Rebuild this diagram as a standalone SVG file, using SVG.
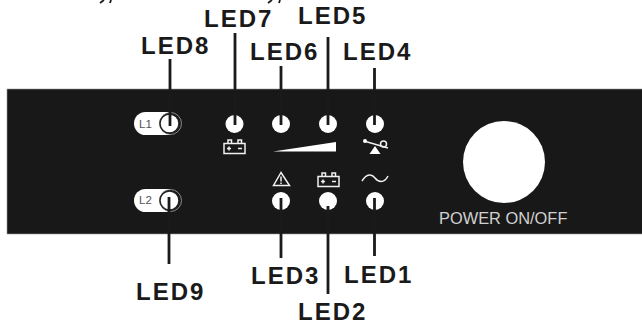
<svg xmlns="http://www.w3.org/2000/svg" width="642" height="324" viewBox="0 0 642 324">
<style>
.led{font:bold 24px "Liberation Sans",Arial,sans-serif;letter-spacing:2px;fill:#1a1a1a}
.sw{font:11.500px "Liberation Sans",Arial,sans-serif;fill:#555}
.pw{font:16.400px "Liberation Sans",Arial,sans-serif;fill:#d0d0d0}
.wl{fill:#fff}
.ln{stroke:#1a1a1a;stroke-width:2.800;fill:none}
.frag{stroke:#1a1a1a;stroke-width:1.800;fill:none}
.ic{stroke:#f0f0f0;stroke-width:1.500;fill:none}
.ring{fill:#fff;stroke:#222;stroke-width:1.500}
.halo{fill:#181818;stroke:#aaa;stroke-width:.8}
</style>
<rect width="642" height="324" fill="#fff"/>
<g id="panel"><rect x="7" y="89" width="636" height="145" fill="#181818" stroke="#999" stroke-width=".6"/></g>
<g id="power"><circle cx="504" cy="162" r="41" class="wl"/><text x="439" y="224" class="pw">POWER ON/OFF</text></g>
<g id="sw1"><path d="M145.500 112H170V135H145.500A11.500 11.500 0 0 1 145.500 112Z" class="wl"/><circle cx="170.500" cy="123.500" r="11" class="halo"/><circle cx="169.500" cy="123.500" r="9.500" class="ring"/><text x="139" y="128" class="sw">L1</text></g>
<g id="sw2"><path d="M145.500 189H170V212H145.500A11.500 11.500 0 0 1 145.500 189Z" class="wl"/><circle cx="170.500" cy="200.500" r="11" class="halo"/><circle cx="169.500" cy="200.500" r="9.500" class="ring"/><text x="139" y="204" class="sw">L2</text></g>
<g id="leds-top"><circle cx="234.500" cy="124" r="9" class="wl"/><circle cx="281" cy="124" r="9" class="wl"/><circle cx="328" cy="124" r="9" class="wl"/><circle cx="375" cy="124" r="9" class="wl"/></g>
<g id="leds-bottom"><circle cx="281" cy="201" r="9" class="wl"/><circle cx="328" cy="201" r="9" class="wl"/><circle cx="375" cy="201" r="9" class="wl"/></g>
<g id="icons">
<rect x="224" y="143.500" width="21" height="10" class="ic"/><path d="M228 143v-3h3.500v3M238 143v-3h3.500v3M227 148.500h4M229 146.500v4M238 148.500h4" class="ic"/>
<path d="M273 151.500L336 142V151.500Z" class="wl"/>
<path d="M364 141L388 148" class="ic"/><path d="M375 146L380.500 154H369.500Z" class="wl"/><circle cx="383.500" cy="144" r="3" class="ic"/><circle cx="365" cy="141" r="2" class="wl"/>
<path d="M281 172.500L273.500 185.500H289.500Z" class="ic"/><path d="M281 176.500v5M281 182.500v1.500" class="ic"/>
<rect x="318" y="176.500" width="21" height="10" class="ic"/><path d="M322 176v-3h3.500v3M332 176v-3h3.500v3M321 181.500h4M323 179.500v4M332 181.500h4" class="ic"/>
<path d="M362 181C367 173 372 174 375 178C378 182 384 184 388 176" class="ic"/>
</g>
<g id="connectors">
<path d="M170 59V126M235 33V125M281 66V125M328 37V125M374.500 68V125M169 197V264M281 198V258M328 206V294M374.500 198V256" class="ln"/>
<path d="M100 3L104 0M110 3L111 0M268 3L272 0M279 3L280 0" class="frag"/>
</g>
<g id="labels">
<text x="141" y="54" class="led">LED8</text>
<text x="204" y="27" class="led">LED7</text>
<text x="298" y="24" class="led">LED5</text>
<text x="250" y="60" class="led">LED6</text>
<text x="343" y="60" class="led">LED4</text>
<text x="251" y="284" class="led">LED3</text>
<text x="344" y="283" class="led">LED1</text>
<text x="136" y="300" class="led">LED9</text>
<text x="298" y="320" class="led">LED2</text>
</g>
</svg>
